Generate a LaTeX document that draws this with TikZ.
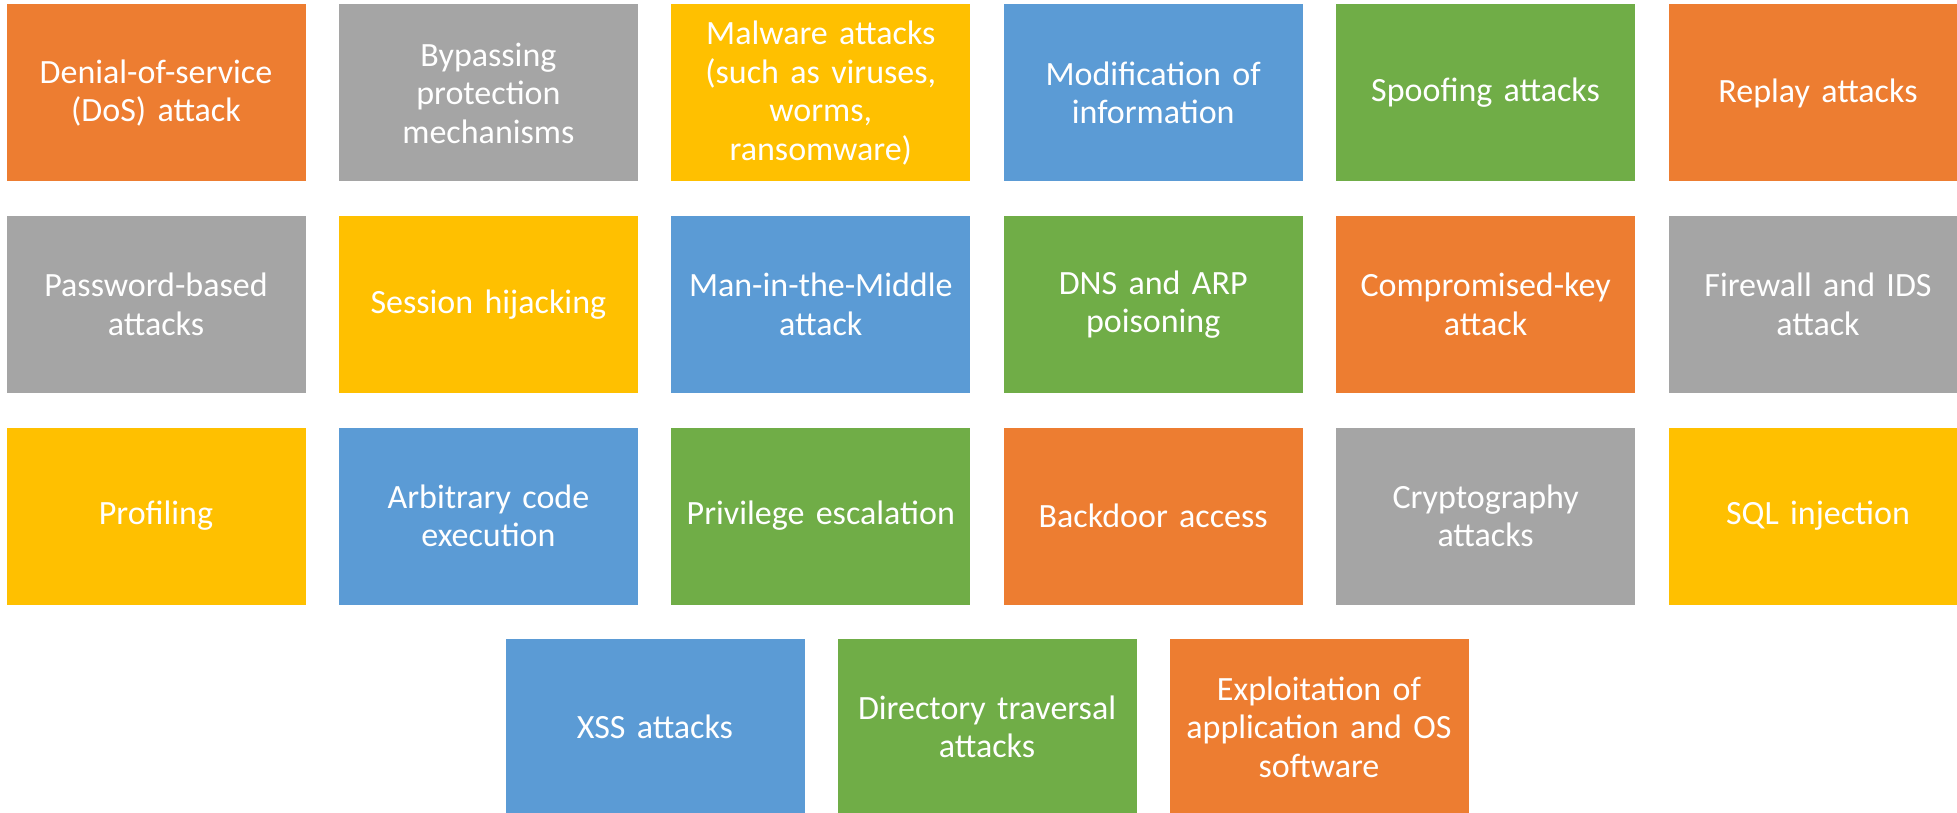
\documentclass[tikz,border=0pt]{standalone}
\usepackage{fontspec}
\setmainfont{Carlito}
\definecolor{cOrange}{HTML}{ED7D31}
\definecolor{cGray}{HTML}{A5A5A5}
\definecolor{cYellow}{HTML}{FFC000}
\definecolor{cBlue}{HTML}{5B9BD5}
\definecolor{cGreen}{HTML}{70AD47}
\tikzset{
  tile/.style={draw=white, line width=1pt, minimum width=300pt, minimum height=178pt,
    inner sep=0pt, text width=290pt, align=center, text=white,
    font=\fontsize{34}{38.5}\selectfont},
  orangetile/.style={tile, fill=cOrange},
  graytile/.style={tile, fill=cGray},
  yellowtile/.style={tile, fill=cYellow},
  bluetile/.style={tile, fill=cBlue},
  greentile/.style={tile, fill=cGreen},
}
\begin{document}
\begin{tikzpicture}[x=1pt,y=-1pt]
\useasboundingbox (0,0) rectangle (1957,813);
\clip (0,0) rectangle (1957,813);
% row 1
\node[orangetile] (dos)   at (156,93)    {Denial-of-service\\(DoS) attack};
\node[graytile]   (byp)   at (488.4,93)  {Bypassing\\protection\\mechanisms};
\node[yellowtile] (mal)   at (820.8,93)  {Malware attacks\\(such as viruses,\\worms,\\ransomware)};
\node[bluetile]   (mod)   at (1153.2,93) {Modification of\\information};
\node[greentile]  (spoof) at (1485.6,93) {Spoofing attacks};
\node[orangetile] (rep)   at (1818,93)   {Replay attacks};
% row 2
\node[graytile]   (pwd)   at (156,304.5)    {Password-based\\attacks};
\node[yellowtile] (sess)  at (488.4,304.5)  {Session hijacking};
\node[bluetile]   (mitm)  at (820.8,304.5)  {Man-in-the-Middle\\attack};
\node[greentile]  (dns)   at (1153.2,304.5) {DNS and ARP\\poisoning};
\node[orangetile] (ckey)  at (1485.6,304.5) {Compromised-key\\attack};
\node[graytile]   (fw)    at (1818,304.5)   {Firewall and IDS\\attack};
% row 3
\node[yellowtile] (prof)  at (156,516)    {Profiling};
\node[bluetile]   (ace)   at (488.4,516)  {Arbitrary code\\execution};
\node[greentile]  (priv)  at (820.8,516)  {Privilege escalation};
\node[orangetile] (bd)    at (1153.2,516) {Backdoor access};
\node[graytile]   (crypt) at (1485.6,516) {Cryptography\\attacks};
\node[yellowtile] (sql)   at (1818,516)   {SQL injection};
% row 4
\node[bluetile]   (xss)   at (655,727)  {XSS attacks};
\node[greentile]  (dir)   at (987,727)  {Directory traversal\\attacks};
\node[orangetile] (expl)  at (1319,727) {Exploitation of\\application and OS\\software};
\end{tikzpicture}
\end{document}
